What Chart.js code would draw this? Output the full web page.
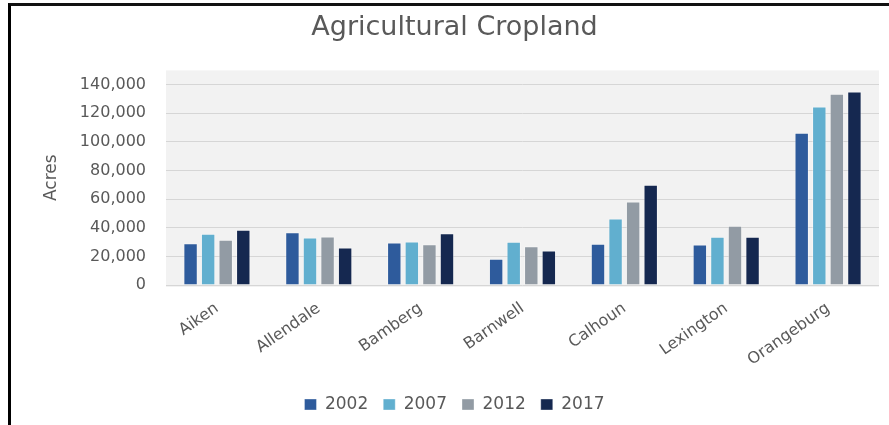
<!DOCTYPE html>
<html>
<head>
<meta charset="utf-8">
<script src="https://cdn.jsdelivr.net/npm/chart.js@4.4.1/dist/chart.umd.min.js"></script>
<style>
  body { margin: 0; background: #fff; }
  #wrap { position: relative; width: 889px; height: 425px; }
  #frame {
    position: absolute; left: 8px; top: 3px; right: 0; bottom: 0;
    border-left: 3px solid #000; border-top: 3px solid #111;
    pointer-events: none;
  }
</style>
</head>
<body>
<div id="wrap">
  <canvas id="cropChart" width="889" height="425"></canvas>
  <div id="frame"></div>
</div>
<script>
// counties and acres per census year
const counties = ['Aiken', 'Allendale', 'Bamberg', 'Barnwell', 'Calhoun', 'Lexington', 'Orangeburg'];
const years = ['2002', '2007', '2012', '2017'];
const acres2002 = [29200, 36900, 29700, 18300, 28800, 28300, 106500];
const acres2007 = [35800, 33200, 30400, 30200, 46400, 33700, 124800];
const acres2012 = [31600, 33900, 28500, 27100, 58300, 41400, 133700];
const acres2017 = [38600, 26200, 36200, 24100, 70000, 33700, 135300];
const yTicks = [0, 20000, 40000, 60000, 80000, 100000, 120000, 140000];

const colors = ['#2E5B9C', '#61AFCF', '#929BA4', '#152850'];
const series = [acres2002, acres2007, acres2012, acres2017];

// grey plot background like the spreadsheet chart
const plotBg = {
    id: 'plotBg',
    beforeDraw(chart) {
        const a = chart.chartArea;
        const ctx = chart.ctx;
        ctx.save();
        ctx.fillStyle = '#F2F2F2';
        ctx.fillRect(a.left, a.top, a.right - a.left, a.bottom - a.top + 2);
        ctx.restore();
    }
};

const ctx = document.getElementById('cropChart').getContext('2d');
const cropChart = new Chart(ctx, {
    type: 'bar',
    data: {
        labels: counties,
        datasets: years.map((y, i) => ({
            label: y,
            data: series[i],
            backgroundColor: colors[i],
            borderColor: 'rgba(255, 255, 255, 0.35)',
            borderWidth: 1,
            categoryPercentage: 0.69,
            barPercentage: 0.82
        }))
    },
    options: {
        responsive: false,
        animation: false,
        layout: {
            padding: { left: 30, right: 10, top: 0, bottom: 2 }
        },
        scales: {
            y: {
                min: 0,
                max: 150000,
                afterBuildTicks: (scale) => {
                    scale.ticks = yTicks.map(v => ({ value: v }));
                },
                afterFit: (scale) => { scale.width = 136; },
                border: { display: false },
                grid: { color: '#D6D6D6', lineWidth: 1, drawTicks: false },
                ticks: {
                    padding: 20,
                    color: '#595959',
                    font: { family: "'DejaVu Sans', sans-serif", size: 16 },
                    callback: (v) => v.toLocaleString('en-US')
                },
                title: {
                    display: true,
                    text: 'Acres',
                    color: '#595959',
                    padding: { top: 11, bottom: 0 },
                    font: { family: "'DejaVu Sans', sans-serif", size: 17 }
                }
            },
            x: {
                afterFit: (scale) => { scale.height = 96; },
                border: { display: false },
                grid: { display: false, drawTicks: false },
                ticks: {
                    minRotation: 35,
                    maxRotation: 35,
                    padding: 14,
                    color: '#595959',
                    font: { family: "'DejaVu Sans', sans-serif", size: 16 }
                }
            }
        },
        plugins: {
            title: {
                display: true,
                text: 'Agricultural Cropland',
                color: '#595959',
                padding: { top: 12, bottom: 26 },
                font: { family: "'DejaVu Sans', sans-serif", size: 27, weight: 'normal' }
            },
            legend: {
                position: 'bottom',
                labels: {
                    boxWidth: 12,
                    boxHeight: 11,
                    padding: 15,
                    color: '#595959',
                    font: { family: "'DejaVu Sans', sans-serif", size: 17 }
                }
            },
            tooltip: { enabled: false }
        }
    },
    plugins: [plotBg]
});
</script>
</body>
</html>
